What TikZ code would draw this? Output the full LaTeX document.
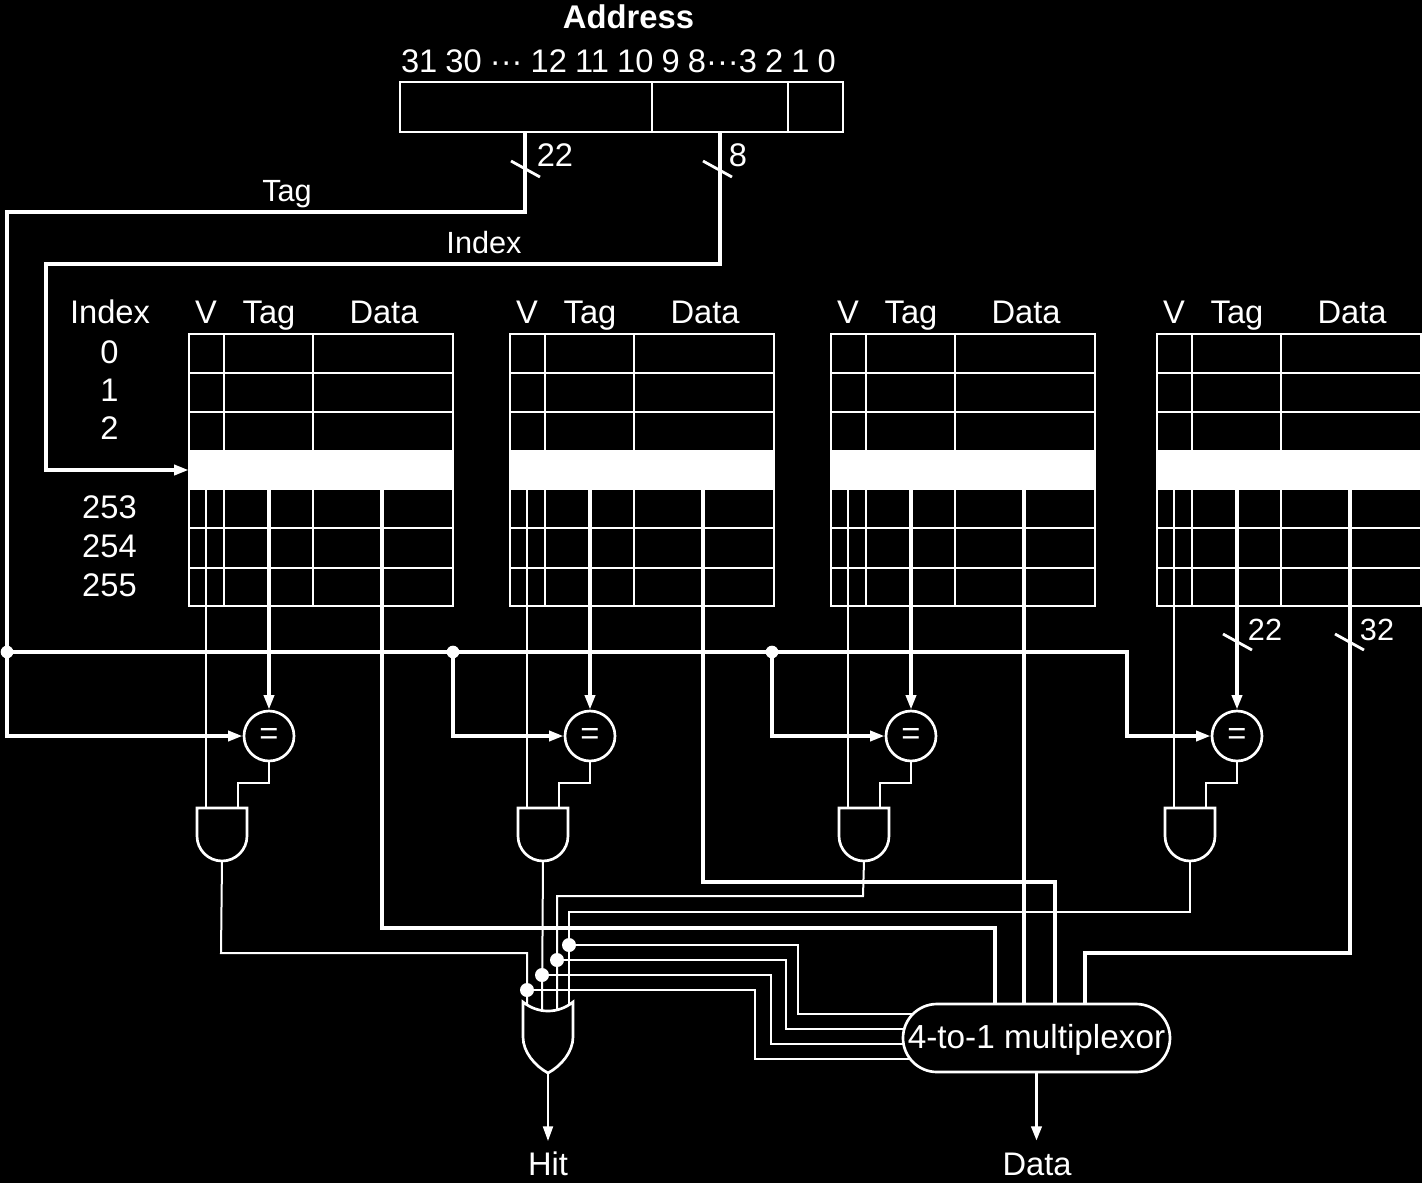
\documentclass[tikz,border=0pt]{standalone}
\usepackage{fontspec}
\setmainfont{Liberation Sans}
\usetikzlibrary{arrows.meta}
\tikzset{
  wirethin/.style={draw=white,line width=1.5pt},
  wirebold/.style={draw=white,line width=2.9pt},
  wiretick/.style={draw=white,line width=2.1pt},
  boxline/.style={draw=white,line width=1.5pt},
  tipped/.style={-{Triangle[length=11pt,width=7.5pt]}},
  dotmark/.style={circle,fill=white,inner sep=0pt,minimum size=#1},
  dotmark/.default=9.5pt,
  lbl/.style={text=white,inner sep=0pt,font=\fontsize{24.5pt}{26pt}\selectfont},
  lblsmall/.style={text=white,inner sep=0pt,font=\fontsize{23pt}{25pt}\selectfont},
  gate/.style={draw=white,line width=2pt,fill=black,line join=miter},
  cmpgate/.style={circle,draw=white,line width=2pt,fill=black,minimum size=37.5pt,inner sep=0pt,text=white,font=\fontsize{24.5pt}{26pt}\selectfont},
}
\begin{document}
\begin{tikzpicture}[x=0.75pt,y=-0.75pt]
\fill[black] (0,0) rectangle (1422,1183);
\useasboundingbox (0,0) rectangle (1422,1183);

% address
\node[lbl,font=\fontsize{24.6pt}{26pt}\selectfont\bfseries] (addrlabel) at (628.5,17) {Address};
\node[lbl] (bits) at (618.5,61) {\spaceskip=6.1pt 31 30 ··· 12 11 10 9 8···3 2 1 0};
\node[boxline,rectangle,minimum width=332.25pt,minimum height=37.5pt,inner sep=0pt] (addr) at (621.5,107) {};
\coordinate (d1t) at (652,82); \coordinate (d1b) at (652,132);
\coordinate (d2t) at (788,82); \coordinate (d2b) at (788,132);
\draw[boxline] (d1t) -- (d1b);
\draw[boxline] (d2t) -- (d2b);

% index column
\node[lbl,anchor=base] (ixh) at (110,323) {Index};
\foreach \nm/\t/\yy in {i0/0/352,i1/1/390,i2/2/428,i253/253/507,i254/254/546,i255/255/585}
  \node[lbl] (\nm) at (109.5,\yy) {\t};

% tables, comparators, AND gates
\foreach \n/\xo in {1/189,2/510,3/831,4/1157}{
  \node[boxline,rectangle,minimum width=198pt,minimum height=204pt,inner sep=0pt] (tab\n) at ({\xo+132},470) {};
  \node[rectangle,fill=white,minimum width=198pt,minimum height=30pt,inner sep=0pt] (band\n) at ({\xo+132},470) {};
  \foreach \yy in {373,412,528,568}
    \draw[boxline] (\xo,\yy) -- ({\xo+264},\yy);
  \foreach \dx in {35,124}{
    \draw[boxline] ({\xo+\dx},334) -- ({\xo+\dx},450);
    \draw[boxline] ({\xo+\dx},490) -- ({\xo+\dx},606);
  }
  \node[lbl,anchor=base] (hv\n) at ({\xo+17},323) {V};
  \node[lbl,anchor=base] (ht\n) at ({\xo+80},323) {Tag};
  \node[lbl,anchor=base] (hd\n) at ({\xo+195},323) {Data};
  \node[cmpgate] (cmp\n) at ({\xo+80},736) {=};
  % AND gate
  \draw[gate] ({\xo+8},808) -- ({\xo+58},808) -- ({\xo+58},836)
     arc[start angle=0,end angle=-180,radius=18.75pt] -- cycle;
  \coordinate (andv\n) at ({\xo+17},808);
  \coordinate (andc\n) at ({\xo+49},808);
  \coordinate (ando\n) at ({\xo+33},861);
  \coordinate (bandv\n) at ({\xo+17},490);
  \coordinate (bandt\n) at ({\xo+80},490);
  \coordinate (bandd\n) at ({\xo+193},490);
  \coordinate (cmpb\n) at ({\xo+80},783);
  \draw[wirethin] (bandv\n) -- (andv\n);
  \draw[wirebold,tipped] (bandt\n) -- (cmp\n.north);
  \draw[wirethin] (cmp\n.south) -- (cmpb\n) -| (andc\n);
}

% address wires
\coordinate (tagbus) at (7,652);
\coordinate (tagin) at (525,132);
\coordinate (idxin) at (720,132);
\coordinate (tagcorner) at (525,212);
\coordinate (tagleft) at (7,212);
\coordinate (idxcorner) at (720,264);
\coordinate (idxleft) at (46,264);
\draw[wirebold] (tagin) -- (tagcorner) -- (tagleft) -- (tagbus);
\draw[wirebold,tipped] (tagbus) |- (cmp1.west);
\draw[wirebold,tipped] (idxin) -- (idxcorner) -- (idxleft) |- (band1.west);
\node[lblsmall,anchor=base] (tagl) at (287,201) {Tag};
\node[lblsmall,anchor=base] (idxl) at (484,253) {Index};

% tag bus
\coordinate (bus2) at (453,652);
\coordinate (bus3) at (772,652);
\coordinate (bus4) at (1127,652);
\draw[wirebold,tipped] (tagbus) -- (bus4) |- (cmp4.west);
\draw[wirebold,tipped] (bus2) |- (cmp2.west);
\draw[wirebold,tipped] (bus3) |- (cmp3.west);
\node[dotmark] (busdot1) at (tagbus) {};
\node[dotmark] (busdot2) at (bus2) {};
\node[dotmark] (busdot3) at (bus3) {};

% slashes
\foreach \cx/\cy/\nm in {525.5/169/sa,717.5/169/sb,1237.5/642/sc,1349.5/642/sd}{
  \coordinate (\nm a) at ({\cx-14.5},{\cy-8});
  \coordinate (\nm b) at ({\cx+14.5},{\cy+8});
  \draw[wiretick] (\nm a) -- (\nm b);
}
\node[lbl] (w22a) at (555,155) {22};
\node[lbl] (w8) at (738,155) {8};
\node[lblsmall] (w22b) at (1265,630) {22};
\node[lblsmall] (w32) at (1377,630) {32};

% multiplexor
\node[draw=white,line width=2pt,rectangle,rounded corners=25.5pt,minimum width=200.25pt,minimum height=51pt,inner sep=0pt,text=white,text height=15pt,text depth=0pt,font=\fontsize{25pt}{27pt}\selectfont] (mux) at (1036.5,1038) {4-to-1 multiplexor};
\coordinate (m1) at (913,1014);
\coordinate (m2) at (904,1029);
\coordinate (m3) at (904,1044);
\coordinate (m4) at (910,1059);

% data wires
\coordinate (d1a) at (382,928); \coordinate (d1b) at (995,928);
\coordinate (d2a) at (703,882); \coordinate (d2b) at (1055,882);
\coordinate (d4a) at (1350,953); \coordinate (d4b) at (1085,953);
\draw[wirebold] (bandd1) -- (d1a) -- (d1b) -- (d1b |- mux.north);
\draw[wirebold] (bandd2) -- (d2a) -- (d2b) -- (d2b |- mux.north);
\draw[wirebold] (bandd3) -- (bandd3 |- mux.north);
\draw[wirebold] (bandd4) -- (d4a) -- (d4b) -- (d4b |- mux.north);

% OR gate
\draw[gate] (523,1002) .. controls (538,1014) and (558,1014) .. (573,1002)
  -- (573,1037) .. controls (573,1052) and (561,1066) .. (548,1073)
  .. controls (535,1066) and (523,1052) .. (523,1037) -- cycle;
\coordinate (or1) at (527,1005);
\coordinate (or2) at (542,1010);
\coordinate (or3) at (557,1010);
\coordinate (or4) at (569,1005);
\coordinate (oro) at (548,1073);

% AND outputs to OR
\coordinate (a1k) at (221,953);
\coordinate (a3k) at (863,896);
\coordinate (a3l) at (557,896);
\coordinate (a4k) at (1190,912);
\coordinate (a4l) at (569,912);
\draw[wirethin] (ando1) -- (a1k) -| (or1);
\draw[wirethin] (ando2) -- (or2);
\draw[wirethin] (ando3) -- (a3k) -- (a3l) -- (or3);
\draw[wirethin] (ando4) -- (a4k) -- (a4l) -- (or4);

% selects to mux
\foreach \i/\xd/\yd/\xt/\yt in {4/569/945/798/1014,3/557/960/786/1029,2/542/975/771/1044,1/527/990/755/1059}{
  \node[dotmark=10.5pt] (sel\i) at (\xd,\yd) {};
  \coordinate (selk\i) at (\xt,\yd);
}
\draw[wirethin] (sel4) -- (selk4) |- (m1);
\draw[wirethin] (sel3) -- (selk3) |- (m2);
\draw[wirethin] (sel2) -- (selk2) |- (m3);
\draw[wirethin] (sel1) -- (selk1) |- (m4);

% outputs
\node[lbl] (hit) at (548,1164) {Hit};
\node[lbl] (data) at (1037,1164) {Data};
\coordinate (hitend) at (548,1141);
\coordinate (dataend) at (1036.5,1141);
\draw[wirethin,tipped] (oro) -- (hitend);
\draw[wirebold,tipped] (mux.south) -- (dataend);
\end{tikzpicture}
\end{document}
